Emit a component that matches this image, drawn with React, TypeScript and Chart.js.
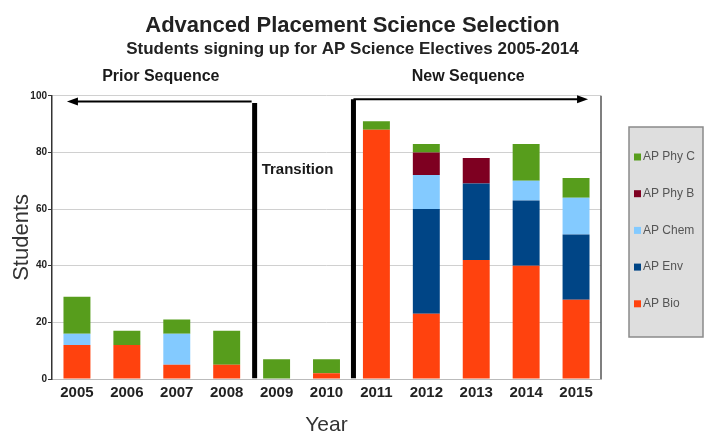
import React, { useEffect, useRef } from 'react';
import { Chart, registerables } from 'chart.js';
Chart.register(...registerables);

const years = ['2005', '2006', '2007', '2008', '2009', '2010', '2011', '2012', '2013', '2014', '2015'];
const apBio = [12, 12, 5, 5, 0, 2, 88, 23, 42, 40, 28];
const apEnv = [0, 0, 0, 0, 0, 0, 0, 37, 27, 23, 23];
const apChem = [4, 0, 11, 0, 0, 0, 0, 12, 0, 7, 13];
const apPhyB = [0, 0, 0, 0, 0, 0, 0, 8, 9, 0, 0];
const apPhyC = [13, 5, 5, 12, 7, 5, 3, 3, 0, 13, 7];
const yTicks = [0, 20, 40, 60, 80, 100];

const FONT = "'Liberation Sans', Arial, sans-serif";

const annotations = {
  id: 'annotations',
  afterDatasetsDraw(chart: any) {
    const { ctx, chartArea, scales } = chart;
    const x = scales.x;
    const y = scales.y;
    ctx.save();
    // right border
    ctx.strokeStyle = '#555';
    ctx.lineWidth = 1.5;
    ctx.beginPath();
    ctx.moveTo(chartArea.right, chartArea.top);
    ctx.lineTo(chartArea.right, chartArea.bottom);
    ctx.stroke();

    const mid = (a: number, b: number) => (x.getPixelForValue(a) + x.getPixelForValue(b)) / 2;
    const lx = mid(3, 4) + 3;
    const rx = mid(5, 6) + 2;
    ctx.strokeStyle = '#000';
    ctx.fillStyle = '#000';
    ctx.lineWidth = 5;
    ctx.beginPath();
    ctx.moveTo(lx, y.getPixelForValue(97.5));
    ctx.lineTo(lx, y.getPixelForValue(0.3));
    ctx.moveTo(rx, y.getPixelForValue(98.8));
    ctx.lineTo(rx, y.getPixelForValue(0.3));
    ctx.stroke();

    // arrows
    ctx.lineWidth = 2;
    const ly = y.getPixelForValue(98);
    const lEnd = x.getPixelForValue(0) - 10;
    ctx.beginPath();
    ctx.moveTo(lx - 3, ly);
    ctx.lineTo(lEnd + 8, ly);
    ctx.stroke();
    ctx.beginPath();
    ctx.moveTo(lEnd, ly);
    ctx.lineTo(lEnd + 11, ly - 4);
    ctx.lineTo(lEnd + 11, ly + 4);
    ctx.closePath();
    ctx.fill();

    const ry = y.getPixelForValue(98.8);
    const rEnd = x.getPixelForValue(10) + 12;
    ctx.beginPath();
    ctx.moveTo(rx, ry);
    ctx.lineTo(rEnd - 8, ry);
    ctx.stroke();
    ctx.beginPath();
    ctx.moveTo(rEnd, ry);
    ctx.lineTo(rEnd - 11, ry - 4);
    ctx.lineTo(rEnd - 11, ry + 4);
    ctx.closePath();
    ctx.fill();

    // texts
    ctx.fillStyle = '#1a1a1a';
    ctx.textBaseline = 'middle';
    ctx.textAlign = 'center';
    ctx.font = `bold 16px ${FONT}`;
    ctx.fillText('Prior Sequence', mid(1, 2) + 9, 77);
    ctx.fillText('New Sequence', x.getPixelForValue(8) - 8, 77);
    ctx.textAlign = 'left';
    ctx.font = `bold 15px ${FONT}`;
    ctx.fillText('Transition', lx + 7, y.getPixelForValue(74));

    // legend
    const bx = 629, by = 127, bw = 74, bh = 210;
    ctx.fillStyle = '#dedede';
    ctx.fillRect(bx, by, bw, bh);
    ctx.strokeStyle = '#8a8a8a';
    ctx.lineWidth = 1.5;
    ctx.strokeRect(bx, by, bw, bh);
    const ds = chart.data.datasets.slice().reverse();
    const step = 36.7;
    ctx.font = `12px ${FONT}`;
    ds.forEach((d: any, i: number) => {
      const cy = by + 30 + i * step;
      ctx.fillStyle = d.backgroundColor;
      ctx.fillRect(bx + 5, cy - 3.5, 7, 7);
      ctx.fillStyle = '#555';
      ctx.textAlign = 'left';
      ctx.fillText(d.label, bx + 14, cy);
    });
    ctx.restore();
  },
};

export default function App() {
  const ref = useRef<HTMLCanvasElement>(null);
  useEffect(() => {
    if (!ref.current) return;
    const chart = new Chart(ref.current, {
      type: 'bar',
      data: {
        labels: years,
        datasets: [
          { label: 'AP Bio', data: apBio, backgroundColor: '#ff420e' },
          { label: 'AP Env', data: apEnv, backgroundColor: '#004586' },
          { label: 'AP Chem', data: apChem, backgroundColor: '#83caff' },
          { label: 'AP Phy B', data: apPhyB, backgroundColor: '#7e0021' },
          { label: 'AP Phy C', data: apPhyC, backgroundColor: '#579d1c' },
        ],
      },
      options: {
        responsive: false,
        animation: false,
        layout: { padding: 0 },
        datasets: { bar: { barPercentage: 0.54, categoryPercentage: 1, borderWidth: 0 } },
        plugins: {
          legend: { display: false },
          tooltip: { enabled: false },
          title: {
            display: true,
            text: 'Advanced Placement Science Selection',
            color: '#222',
            font: { family: FONT, size: 22, weight: 'bold' },
            padding: { top: 13, bottom: 0 },
          },
          subtitle: {
            display: true,
            text: 'Students signing up for AP Science Electives 2005-2014',
            color: '#222',
            font: { family: FONT, size: 17, weight: 'bold' },
            padding: { top: 0, bottom: 36 },
          },
        },
        scales: {
          x: {
            stacked: true,
            grid: { display: false, drawTicks: false },
            border: { display: true, color: '#bbb' },
            ticks: { color: '#222', font: { family: FONT, size: 15, weight: 'bold' }, padding: 5 },
            title: {
              display: true,
              text: 'Year',
              color: '#333',
              font: { family: FONT, size: 21 },
              padding: { top: 0, bottom: 0 },
            },
            afterFit: (s: any) => { s.height = 59; },
          },
          y: {
            stacked: true,
            min: 0,
            max: 100,
            afterBuildTicks: (s: any) => { s.ticks = yTicks.map((v) => ({ value: v })); },
            grid: { color: '#d0d0d0', tickLength: 4, tickColor: '#333' },
            border: { display: true, color: '#333', width: 1.5 },
            ticks: { color: '#222', font: { family: FONT, size: 10, weight: 'bold' }, padding: 1 },
            title: {
              display: true,
              text: 'Students',
              color: '#333',
              font: { family: FONT, size: 22 },
              padding: { top: 9, bottom: 0 },
            },
            afterFit: (s: any) => { s.width = 52; },
          },
          side: {
            type: 'linear',
            position: 'right',
            display: true,
            min: 0,
            max: 1,
            grid: { display: false, drawTicks: false },
            border: { display: false },
            ticks: { display: false },
            afterFit: (s: any) => { s.width = 104; },
          },
        },
      },
      plugins: [annotations],
    });
    return () => chart.destroy();
  }, []);
  return (
    <div style={{ position: 'fixed', left: 0, top: 0, width: 705, height: 438, background: '#fff' }}>
      <canvas ref={ref} width={705} height={438} />
    </div>
  );
}
